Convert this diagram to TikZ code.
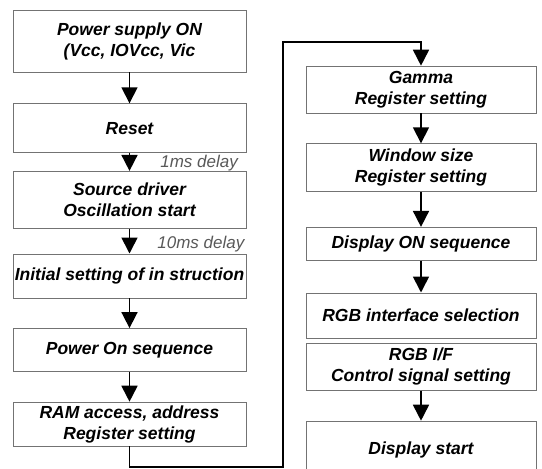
\documentclass[tikz,border=0pt]{standalone}
\usepackage{fontspec}
\setmainfont{Liberation Sans}
\usetikzlibrary{arrows.meta,positioning}

\tikzset{
  stage/.style={draw=black!55, line width=0.6pt, minimum width=233pt, inner sep=0pt,
    align=center, font=\fontsize{17.5}{21}\selectfont\bfseries\itshape},
  delay/.style={font=\fontsize{17}{21}\selectfont\itshape, text=black!65, inner sep=0pt,
    anchor=base west, pos=1},
  flow/.style={->, line width=1.7pt},
}

\begin{document}
\begin{tikzpicture}[x=1pt,y=-1pt,>={Triangle[width=16pt,length=16pt]}]
    \useasboundingbox (0,0) rectangle (542,469);
    \clip (0,0) rectangle (542,469);

    %left column
    \node[stage, minimum height=62pt] (power) at (129.5,41) {Power supply ON\\(Vcc, IOVcc, Vic};
    \node[stage, minimum height=49pt] (reset) [below =31pt of power] {Reset};
    \node[stage, minimum height=57pt] (source) [below =18pt of reset] {Source driver\\Oscillation start};
    \node[stage, minimum height=44pt] (init) [below =25pt of source] {Initial setting of in struction};
    \node[stage, minimum height=43pt] (poweron) [below =30pt of init] {Power On sequence};
    \node[stage, minimum height=44pt] (ram) [below =30pt of poweron] {RAM access, address\\Register setting};

    %right column
    \node[stage, minimum width=230pt, minimum height=47pt] (gamma) at (421,89.5) {Gamma\\Register setting};
    \node[stage, minimum width=230pt, minimum height=48pt] (window) [below =30pt of gamma] {Window size\\Register setting};
    \node[stage, minimum width=230pt, minimum height=33pt] (dispon) [below =35pt of window] {Display ON sequence};
    \node[stage, minimum width=230pt, minimum height=45pt] (rgbsel) [below =32pt of dispon] {RGB interface selection};
    \node[stage, minimum width=230pt, minimum height=47pt] (rgbif) [below =5pt of rgbsel] {RGB I/F\\Control signal setting};
    \node[stage, minimum width=230pt, minimum height=58pt] (dispstart) [below =30pt of rgbif] {Display start};

    %left arrows
    \path[flow]
    (power) edge (reset)
    (reset) edge node[delay, xshift=30pt, yshift=3pt] {1ms delay} (source)
    (source) edge node[delay, xshift=27pt, yshift=5pt] {10ms delay} (init)
    (init) edge (poweron)
    (poweron) edge (ram);

    %jump to second column
    \coordinate (low) at (283,467);
    \coordinate (high) at (283,42);
    \draw[flow] (ram.south) |- (low) -- (high) -| (gamma.north);

    %right arrows
    \path[flow]
    (gamma) edge (window)
    (window) edge (dispon)
    (dispon) edge (rgbsel)
    (rgbif) edge (dispstart);

\end{tikzpicture}
\end{document}
